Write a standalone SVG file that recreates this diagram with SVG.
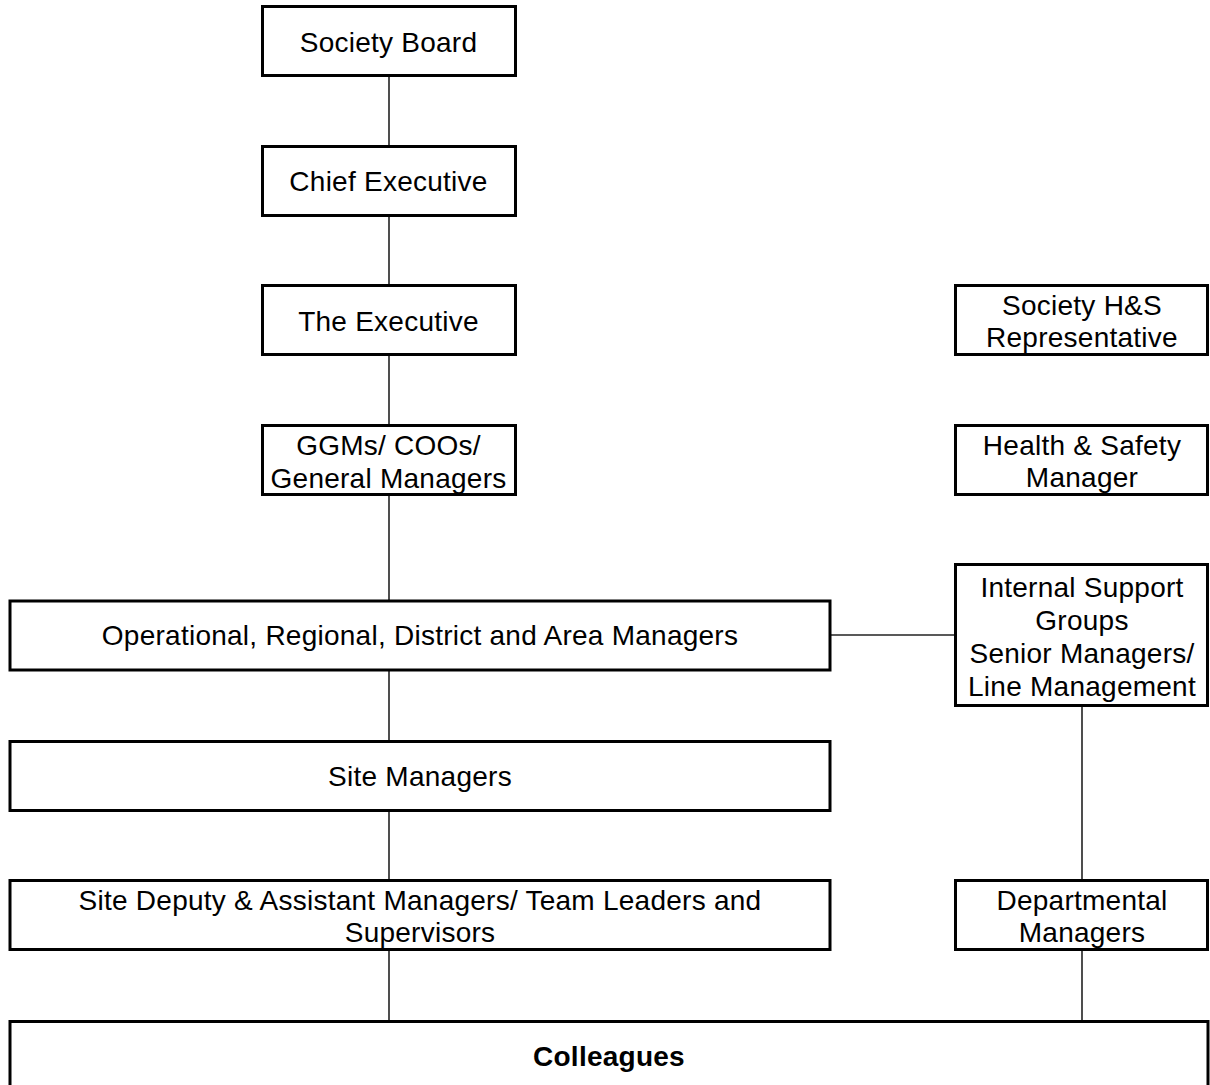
<svg xmlns="http://www.w3.org/2000/svg" width="1210" height="1085" viewBox="0 0 1210 1085">
<style>
.box{fill:#fff;stroke:#000;stroke-width:3}
.t{font-family:"Liberation Sans",Arial,sans-serif;font-size:28px;letter-spacing:0.25px;fill:#000;text-anchor:middle}
.b{font-weight:bold}
.c{stroke:#222;stroke-width:1.6;fill:none}
</style>
<rect width="1210" height="1085" fill="#fff"/>
<g id="connectors">
<line class="c" x1="389" y1="76" x2="389" y2="146"/>
<line class="c" x1="389" y1="216" x2="389" y2="285"/>
<line class="c" x1="389" y1="355" x2="389" y2="425"/>
<line class="c" x1="389" y1="495" x2="389" y2="601"/>
<line class="c" x1="389" y1="670" x2="389" y2="741"/>
<line class="c" x1="389" y1="811" x2="389" y2="880"/>
<line class="c" x1="389" y1="950" x2="389" y2="1021"/>
<line class="c" x1="830" y1="635" x2="955" y2="635"/>
<line class="c" x1="1082" y1="706" x2="1082" y2="880"/>
<line class="c" x1="1082" y1="950" x2="1082" y2="1021"/>
</g>
<g id="society-board"><rect class="box" x="262.5" y="6.5" width="253" height="69"/><text class="t" x="388.5" y="52">Society Board</text></g>
<g id="chief-executive"><rect class="box" x="262.5" y="146.5" width="253" height="69"/><text class="t" x="388.5" y="191">Chief Executive</text></g>
<g id="the-executive"><rect class="box" x="262.5" y="285.5" width="253" height="69"/><text class="t" x="388.5" y="331">The Executive</text></g>
<g id="ggms"><rect class="box" x="262.5" y="425.5" width="253" height="69"/><text class="t" x="388.5" y="455">GGMs/ COOs/</text><text class="t" x="388.5" y="488">General Managers</text></g>
<g id="operational"><rect class="box" x="10" y="601" width="820" height="69"/><text class="t" x="420" y="645">Operational, Regional, District and Area Managers</text></g>
<g id="site-managers"><rect class="box" x="10" y="741.5" width="820" height="69"/><text class="t" x="420" y="786">Site Managers</text></g>
<g id="site-deputy"><rect class="box" x="10" y="880.5" width="820" height="69"/><text class="t" x="420" y="910">Site Deputy &amp; Assistant Managers/ Team Leaders and</text><text class="t" x="420" y="942">Supervisors</text></g>
<g id="society-hs-rep"><rect class="box" x="955.5" y="285.5" width="252" height="69"/><text class="t" x="1082" y="315">Society H&amp;S</text><text class="t" x="1082" y="347">Representative</text></g>
<g id="hs-manager"><rect class="box" x="955.5" y="425.5" width="252" height="69"/><text class="t" x="1082" y="455">Health &amp; Safety</text><text class="t" x="1082" y="487">Manager</text></g>
<g id="internal-support"><rect class="box" x="955.5" y="564.5" width="252" height="141"/><text class="t" x="1082" y="597">Internal Support</text><text class="t" x="1082" y="630">Groups</text><text class="t" x="1082" y="663">Senior Managers/</text><text class="t" x="1082" y="696">Line Management</text></g>
<g id="departmental"><rect class="box" x="955.5" y="880.5" width="252" height="69"/><text class="t" x="1082" y="910">Departmental</text><text class="t" x="1082" y="942">Managers</text></g>
<g id="colleagues"><rect class="box" x="10" y="1021.5" width="1198" height="100"/><text class="t b" x="609" y="1066">Colleagues</text></g>
</svg>
